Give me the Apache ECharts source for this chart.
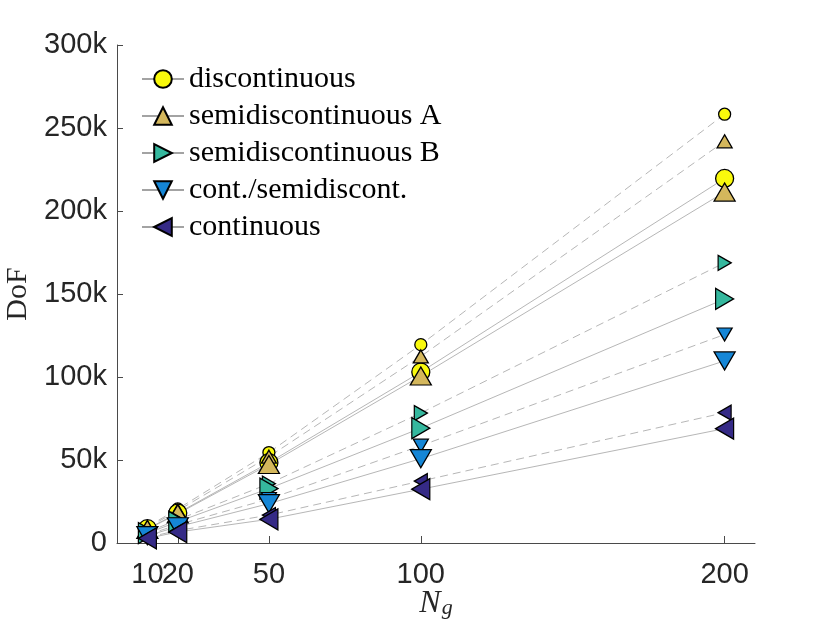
<!DOCTYPE html>
<html>
<head>
  <meta charset="utf-8">
  <style>
    html, body { margin: 0; padding: 0; background: #fff; }
    #main { width: 830px; height: 623px; }
  </style>
</head>
<body>
  <div id="main"></div>
</body>
<script src="https://cdn.jsdelivr.net/npm/echarts@6/dist/echarts.min.js"></script>
<script>
  // element counts on the x axis
  var ng = [10, 20, 50, 100, 200];
  var xTicks = [10, 20, 50, 100, 200];
  var xLabelsMain = [10, 50, 100, 200];
  var xLabelsExtra = [20];

  // large markers, solid lines
  var discLarge = [8600, 18000, 48400, 103000, 219600];
  var semiALarge = [8200, 17600, 47300, 100600, 211400];
  var semiBLarge = [5900, 12800, 32800, 69200, 147000];
  var contSemiLarge = [4400, 9800, 23700, 50800, 109700];
  var contLarge = [2800, 6600, 14300, 32400, 68900];

  // small markers, dashed lines
  var discSmall = [9800, 20500, 54500, 119500, 258300];
  var semiASmall = [9200, 19500, 52000, 112400, 242000];
  var semiBSmall = [6600, 14000, 35700, 78300, 168800];
  var contSemiSmall = [5000, 11000, 26500, 58600, 125600];
  var contSmall = [3400, 7500, 16800, 37300, 78500];

  var names = ['discontinuous', 'semidiscontinuous A', 'semidiscontinuous B',
               'cont./semidiscont.', 'continuous'];
  var colors = ['#f9f90c', '#d4b75c', '#35b89e', '#1586d6', '#352a86'];
  var symbols = ['circle', 'triangle', 'triangle', 'triangle', 'triangle'];
  var rotations = [0, 0, -90, 180, 90];
  var largeSizes = [18, [21, 18], [21, 18], [21, 18], [21, 18]];
  var smallSizes = [12, [15, 13], [15, 13], [15, 13], [15, 13]];

  var largeSets = [discLarge, semiALarge, semiBLarge, contSemiLarge, contLarge];
  var smallSets = [discSmall, semiASmall, semiBSmall, contSemiSmall, contSmall];

  function pairs(values) {
    return ng.map(function (x, i) { return [x, values[i]]; });
  }

  var series = [];
  // lines underneath (the large ones carry the legend icon)
  for (var i = 0; i < 5; i++) {
    series.push({
      name: names[i],
      type: 'line',
      z: 1,
      data: pairs(largeSets[i]),
      symbol: symbols[i],
      symbolRotate: rotations[i],
      symbolSize: 0.1,
      lineStyle: { color: '#a3a3a3', width: 0.8 },
      itemStyle: { color: colors[i], borderColor: '#000', borderWidth: 1.3 },
      emphasis: { disabled: true },
      animation: false
    });
    series.push({
      name: names[i] + ' (dashed)',
      type: 'line',
      z: 1,
      data: pairs(smallSets[i]),
      symbol: 'none',
      lineStyle: { color: '#a3a3a3', width: 0.8, type: [8, 5] },
      emphasis: { disabled: true },
      animation: false
    });
  }
  // markers on top
  for (var j = 0; j < 5; j++) {
    series.push({
      name: names[j] + ' small',
      type: 'scatter',
      z: 3,
      data: pairs(smallSets[j]),
      symbol: symbols[j],
      symbolRotate: rotations[j],
      symbolSize: smallSizes[j],
      itemStyle: { color: colors[j], borderColor: '#000', borderWidth: 1.3, opacity: 1 },
      animation: false
    });
    series.push({
      name: names[j] + ' large',
      type: 'scatter',
      z: 3,
      data: pairs(largeSets[j]),
      symbol: symbols[j],
      symbolRotate: rotations[j],
      symbolSize: largeSizes[j],
      itemStyle: { color: colors[j], borderColor: '#000', borderWidth: 1.3, opacity: 1 },
      animation: false
    });
  }

  var labelFont = {
    fontFamily: 'Liberation Sans',
    fontSize: 29,
    color: '#262626'
  };

  var chart = echarts.init(document.getElementById('main'));
  chart.setOption({
    animation: false,
    grid: { left: 117, right: 75, top: 45, bottom: 80, outerBoundsMode: 'none', containLabel: false },
    legend: {
      data: names,
      orient: 'vertical',
      left: 136,
      top: 59,
      itemWidth: 42,
      itemHeight: 22,
      itemGap: 7,
      textStyle: {
        fontFamily: 'Liberation Serif',
        fontSize: 30,
        lineHeight: 22,
        color: '#000'
      }
    },
    xAxis: [{
      type: 'value',
      min: 0,
      max: 210,
      name: '{n|N}{g|g}',
      nameLocation: 'middle',
      nameMoveOverlap: false,
      nameGap: 45,
      nameTextStyle: {
        rich: {
          n: { fontFamily: 'Liberation Serif', fontStyle: 'italic', fontSize: 32, color: '#262626' },
          g: { fontFamily: 'Liberation Serif', fontStyle: 'italic', fontSize: 22, color: '#262626',
               padding: [9, 0, 0, 1] }
        }
      },
      splitLine: { show: false },
      axisLine: { lineStyle: { color: '#4a4a4a', width: 1 } },
      axisTick: { inside: true, length: 7, customValues: xTicks, lineStyle: { color: '#4a4a4a' } },
      axisLabel: Object.assign({
        customValues: xLabelsMain,
        hideOverlap: false,
        margin: 17
      }, labelFont)
    }, {
      // second copy of the scale, only to print the "20" next to "10"
      type: 'value',
      min: 0,
      max: 210,
      position: 'bottom',
      splitLine: { show: false },
      axisLine: { show: false },
      axisTick: { show: false },
      axisLabel: Object.assign({
        customValues: xLabelsExtra,
        hideOverlap: false,
        margin: 17
      }, labelFont)
    }],
    yAxis: {
      type: 'value',
      min: 0,
      max: 300000,
      interval: 50000,
      name: 'DoF',
      nameLocation: 'middle',
      nameGap: 81,
      nameTextStyle: { fontFamily: 'Liberation Serif', fontSize: 30, color: '#262626' },
      splitLine: { show: false },
      axisLine: { show: true, lineStyle: { color: '#4a4a4a', width: 1 } },
      axisTick: { show: true, inside: true, length: 6, lineStyle: { color: '#4a4a4a' } },
      axisLabel: Object.assign({
        margin: 10,
        formatter: function (v) { return v === 0 ? '0' : (v / 1000) + 'k'; }
      }, labelFont)
    },
    series: series
  });
</script>
</html>
